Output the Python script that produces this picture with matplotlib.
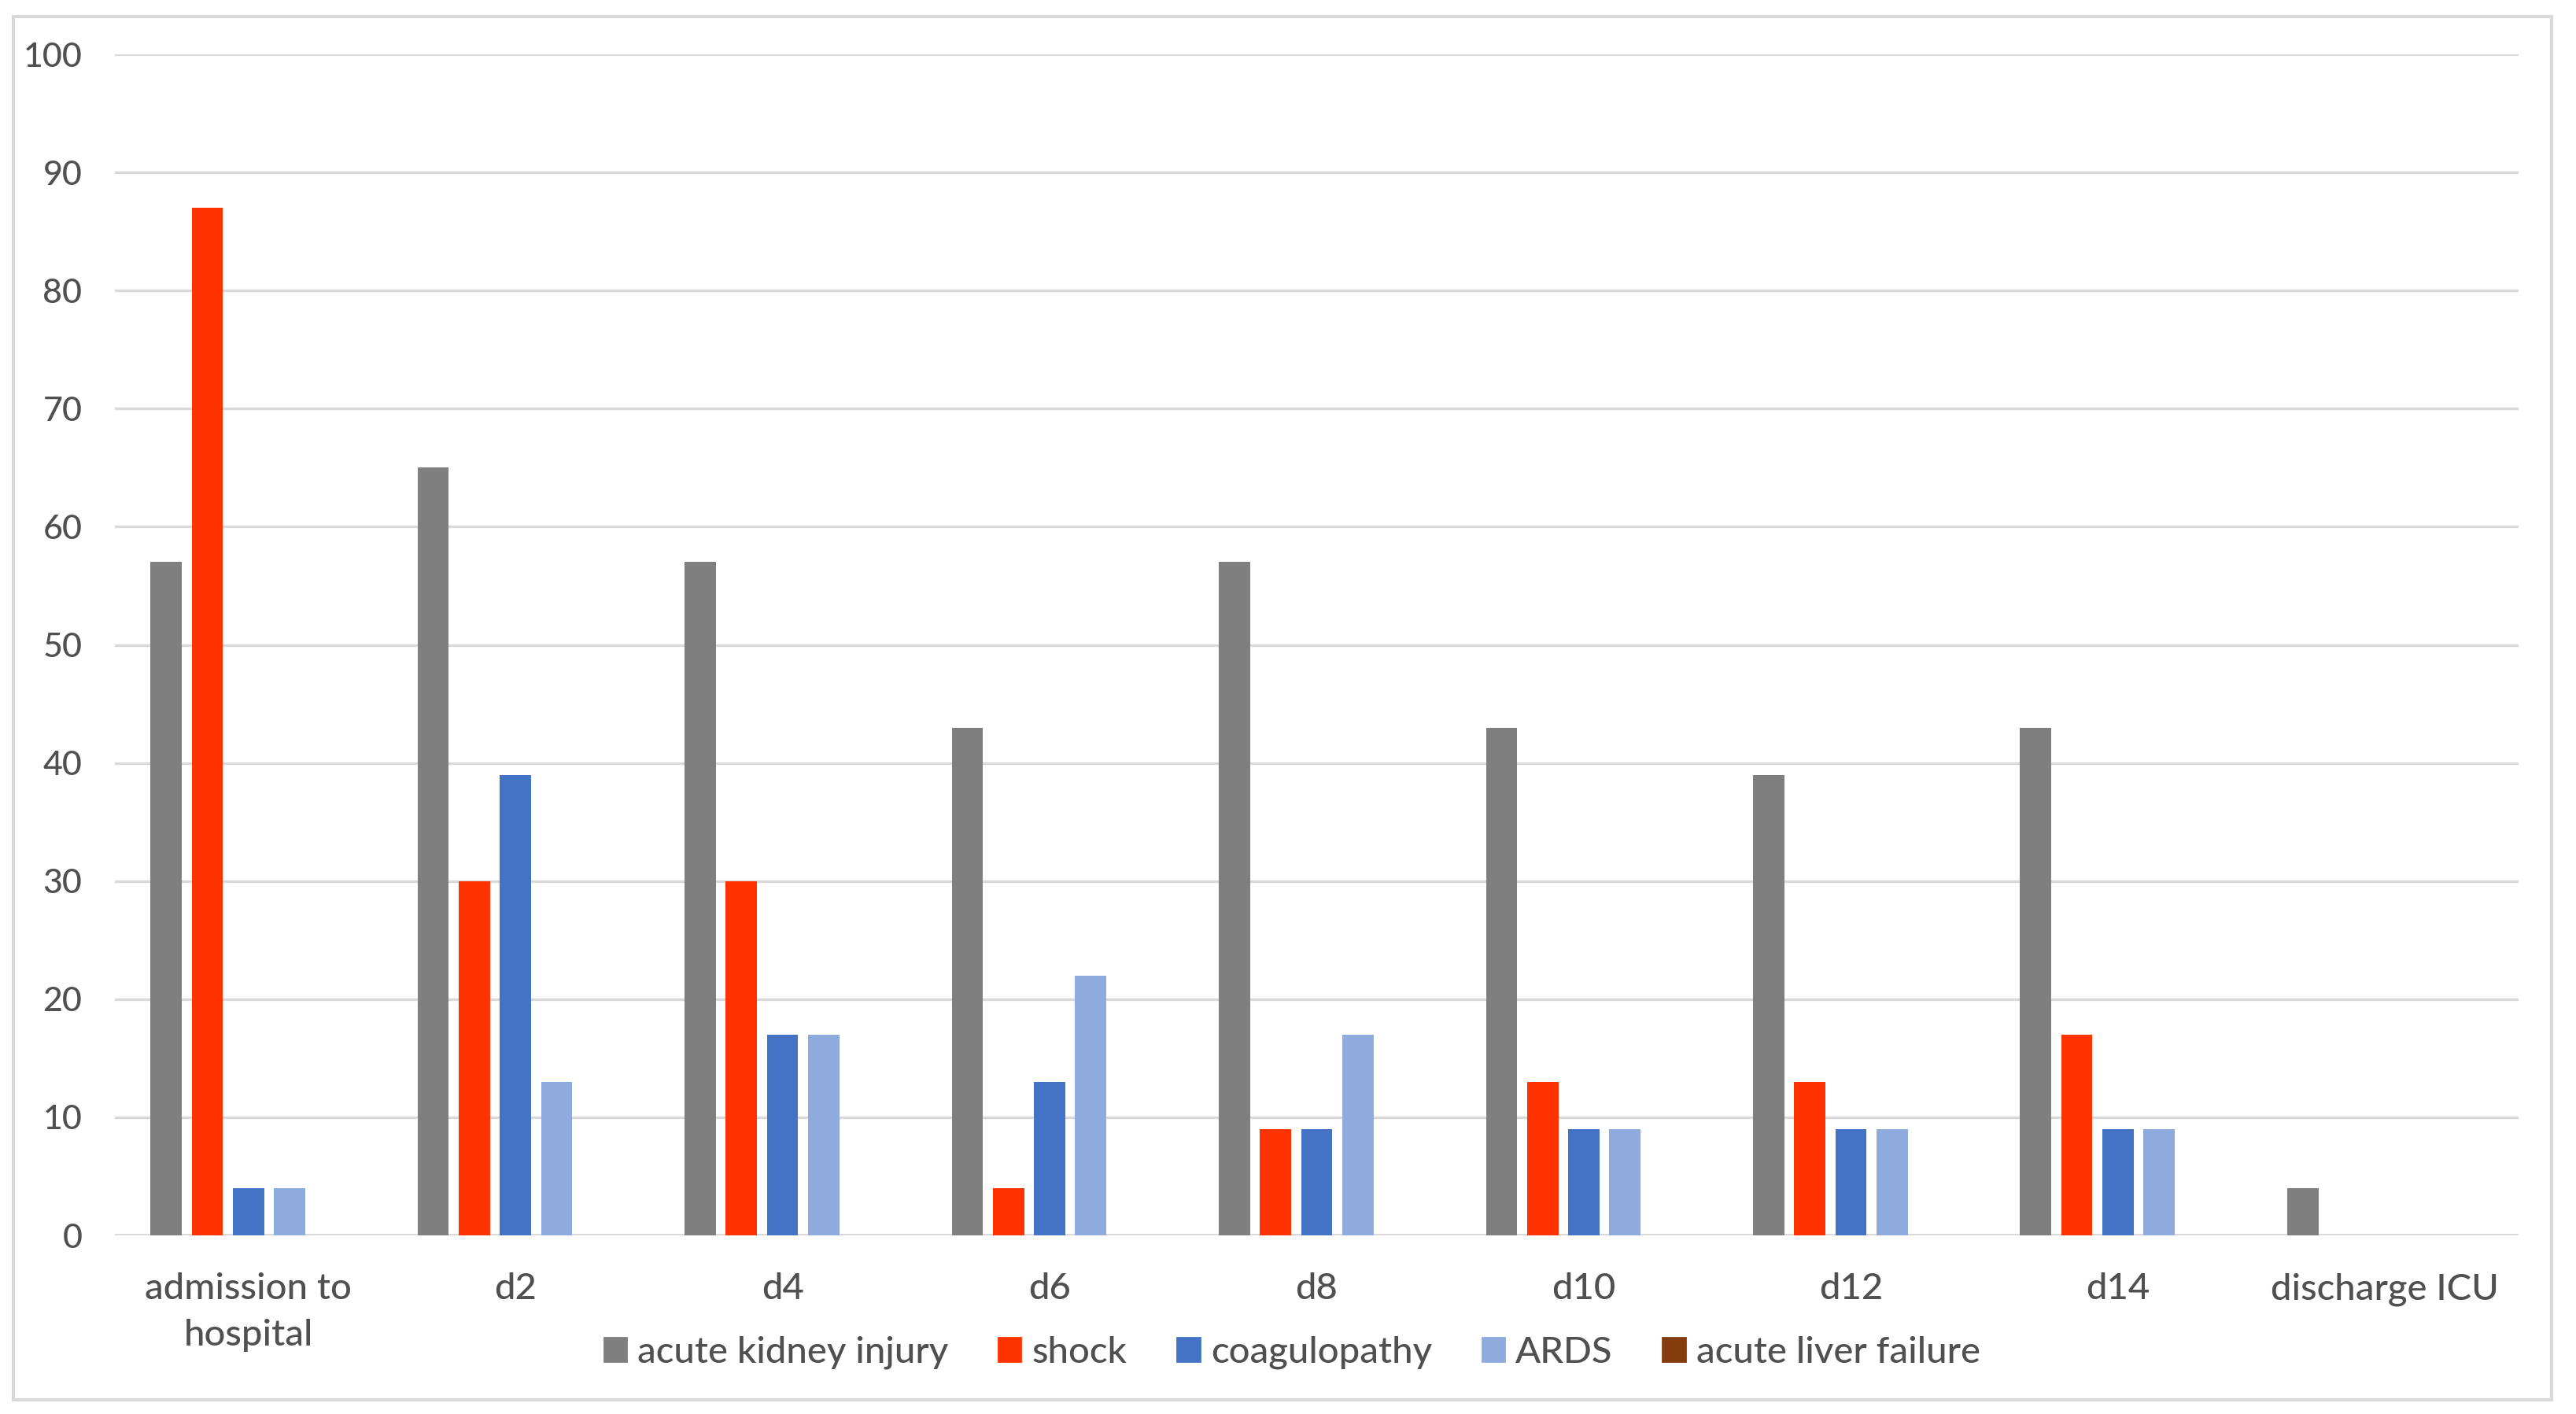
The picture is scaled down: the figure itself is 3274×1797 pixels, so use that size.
import numpy as np
from matplotlib import pyplot as plt
from matplotlib.patches import Patch, Rectangle

plt.rcParams['font.family'] = ['Lato', 'DejaVu Sans']

categories = ['admission to\nhospital', 'd2', 'd4', 'd6', 'd8', 'd10', 'd12', 'd14', 'discharge ICU']

aki = [57, 65, 57, 43, 57, 43, 39, 43, 4]
shock = [87, 30, 30, 4, 9, 13, 13, 17, 0]
coagulopathy = [4, 39, 17, 13, 9, 9, 9, 9, 0]
ards = [4, 13, 17, 22, 17, 9, 9, 9, 0]
liver_failure = [0, 0, 0, 0, 0, 0, 0, 0, 0]

series_names = ['acute kidney injury', 'shock', 'coagulopathy', 'ARDS', 'acute liver failure']
series_values = [aki, shock, coagulopathy, ards, liver_failure]
colors = ['#7F7F7F', '#FF3300', '#4472C4', '#8FAADC', '#843C0C']

text_col = '#505050'
grid_col = '#D9D9D9'

fig = plt.figure(figsize=(16.37, 8.985), dpi=200)
ax = fig.add_axes([0.0446, 0.1263, 0.9331, 0.8353])

x = np.arange(len(categories))
step = 0.154
width = 0.117
for k, (name, vals) in enumerate(zip(series_names, series_values)):
    ax.bar(x + (k - 2) * step, vals, width, color=colors[k], label=name, zorder=3)

ax.set_xlim(-0.5, len(categories) - 0.5)
ax.set_ylim(0, 100)
ax.set_yticks(np.arange(0, 101, 10))
ax.set_xticks(x)
ax.set_xticklabels(categories)
ax.yaxis.grid(True, color=grid_col, linewidth=1.2, zorder=0)
ax.axhline(0, color=grid_col, linewidth=1.4, zorder=2)
for s in ax.spines.values():
    s.set_visible(False)
ax.tick_params(axis='both', length=0, colors=text_col)
ax.tick_params(axis='y', pad=15, labelsize=15.5)
ax.tick_params(axis='x', pad=17, labelsize=17)
for lbl in ax.get_xticklabels() + ax.get_yticklabels():
    lbl.set_fontweight('medium')
for lbl in ax.get_xticklabels():
    lbl.set_linespacing(1.5)

handles = [Patch(color=c) for c in colors]
leg = fig.legend(handles, series_names, loc='center', bbox_to_anchor=(0.5016, 0.0435),
                 ncol=5, frameon=False, fontsize=17, handlelength=0.6, handleheight=0.6,
                 handletextpad=0.3, columnspacing=1.35)
for t in leg.get_texts():
    t.set_color(text_col)
    t.set_fontweight('medium')

# chart border
fig.patches.append(Rectangle((17 / 3274, 1 - 1779 / 1797), (3243 - 17) / 3274, (1779 - 21) / 1797,
                             transform=fig.transFigure, fill=False, edgecolor=grid_col, linewidth=1.5))

fig.savefig('out.png', dpi=200, facecolor='white')
